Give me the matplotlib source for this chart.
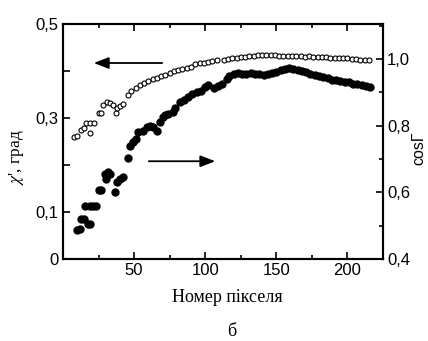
import numpy as np
import matplotlib
matplotlib.use('Agg')
import matplotlib.pyplot as plt
from matplotlib.ticker import MultipleLocator

# chi' (left axis), open circles
pix_chi = [8, 10, 13, 15, 16, 19, 19, 22, 25, 27, 28, 31, 33, 35, 37, 38, 40, 42, 46, 48,
           51, 54, 57, 60, 63, 66, 69, 72, 75, 78, 81, 84, 87, 90, 93, 96, 99, 102, 105, 108,
           113, 116, 119, 122, 125, 128, 131, 134, 137, 140, 143, 146, 149, 152, 155, 158,
           161, 164, 167, 170, 173, 176, 179, 182, 185, 188, 191, 194, 197, 200, 203, 206,
           209, 212, 215]
chi = [0.260, 0.262, 0.274, 0.278, 0.289, 0.268, 0.290, 0.290, 0.310, 0.311, 0.328, 0.333,
       0.332, 0.327, 0.310, 0.321, 0.326, 0.329, 0.349, 0.358, 0.364, 0.370, 0.374, 0.378,
       0.382, 0.386, 0.389, 0.392, 0.396, 0.399, 0.402, 0.404, 0.407, 0.409, 0.414, 0.417,
       0.418, 0.419, 0.421, 0.423, 0.423, 0.426, 0.428, 0.428, 0.429, 0.430, 0.431, 0.432,
       0.433, 0.433, 0.434, 0.433, 0.433, 0.432, 0.432, 0.431, 0.432, 0.431, 0.431, 0.430,
       0.431, 0.430, 0.430, 0.429, 0.429, 0.428, 0.428, 0.428, 0.427, 0.427, 0.426, 0.426,
       0.424, 0.423, 0.423]

# cos Gamma (right axis), filled circles
pix_cos = [10, 12, 13, 15, 15.5, 17.5, 19, 19, 21, 23, 25, 27, 29.5, 30, 31.5, 33, 36.5, 38,
           40, 42, 45.5, 47, 49, 51, 53, 56, 59, 61, 63, 66, 68, 70, 72, 74, 77, 79, 82, 85,
           88, 91, 94, 97, 100, 102, 106, 109, 112, 115, 117, 120, 123, 126, 129, 132, 135,
           138, 141, 144, 147, 150, 153, 156, 159, 162, 165, 168, 171, 174, 177, 180, 183,
           186, 189, 192, 195, 198, 201, 204, 207, 210, 213, 216]
cosg = [0.488, 0.490, 0.521, 0.519, 0.558, 0.506, 0.505, 0.558, 0.558, 0.558, 0.606, 0.606,
        0.655, 0.640, 0.662, 0.655, 0.600, 0.630, 0.640, 0.645, 0.703, 0.740, 0.750, 0.760,
        0.780, 0.785, 0.795, 0.800, 0.797, 0.785, 0.810, 0.827, 0.832, 0.836, 0.840, 0.852,
        0.870, 0.876, 0.885, 0.895, 0.900, 0.905, 0.915, 0.921, 0.912, 0.918, 0.925, 0.940,
        0.950, 0.955, 0.958, 0.955, 0.955, 0.958, 0.956, 0.955, 0.953, 0.954, 0.958, 0.962,
        0.966, 0.970, 0.972, 0.970, 0.967, 0.964, 0.960, 0.955, 0.951, 0.948, 0.946, 0.942,
        0.938, 0.936, 0.933, 0.932, 0.930, 0.926, 0.924, 0.921, 0.919, 0.917]

plt.rcParams['font.family'] = ['Liberation Sans', 'DejaVu Sans']
plt.rcParams['mathtext.fontset'] = 'stix'

fig = plt.figure(figsize=(4.28, 3.41), dpi=100)
ax = fig.add_axes([63/428, 1 - 259/341, 320/428, 235/341])
ax2 = ax.twinx()

ax.plot(pix_chi, chi, 'o', ms=3.6, mfc='white', mec='black', mew=0.8, zorder=3)
ax2.plot(pix_cos, cosg, 'o', ms=5, color='black')

ax.set_xlim(0, 225)
ax.set_ylim(0, 0.5)
ax2.set_ylim(0.4, 1.105)

ax.set_xticks([50, 100, 150, 200])
ax.xaxis.set_minor_locator(MultipleLocator(25))
ax.set_yticks([0, 0.1, 0.2, 0.3, 0.4, 0.5])
ax.set_yticklabels(['0', '0,1', '', '0,3', '', '0,5'])
ax2.set_yticks([0.4, 0.6, 0.8, 1.0])
ax2.set_yticklabels(['0,4', '0,6', '0,8', '1,0'])
ax2.yaxis.set_minor_locator(MultipleLocator(0.1))

ax.tick_params(which='both', direction='in', top=True, labelsize=12, width=1.2, pad=3)
ax.tick_params(which='major', length=5)
ax.tick_params(which='minor', length=3)
ax2.tick_params(which='both', direction='in', labelsize=12, width=1.2, pad=3)
ax2.tick_params(which='major', length=5)
ax2.tick_params(which='minor', length=3)
for a in (ax, ax2):
    for s in a.spines.values():
        s.set_linewidth(1.5)

# arrows
ax.annotate('', xy=(19.7, 0.417), xytext=(71.7, 0.417),
            arrowprops=dict(arrowstyle='-|>,head_length=0.9,head_width=0.35', color='black', lw=1.3))
ax.annotate('', xy=(109, 0.208), xytext=(58.4, 0.208),
            arrowprops=dict(arrowstyle='-|>,head_length=0.9,head_width=0.35', color='black', lw=1.3))

fig.text(17/428, 1 - 157/341, r"$\chi$', град", rotation=90, ha='center', va='center',
         family='Liberation Serif', fontsize=12.5)
fig.text(419/428, 1 - 148/341, 'cosΓ', rotation=90, ha='center', va='center', fontsize=11.5)
fig.text(227/428, 1 - 298/341, 'Номер пікселя', ha='center', va='center',
         family='Liberation Serif', fontsize=13)
fig.text(232/428, 1 - 331/341, 'б', ha='center', va='center',
         family='Liberation Serif', fontsize=13)

fig.savefig('out.png', dpi=100)
